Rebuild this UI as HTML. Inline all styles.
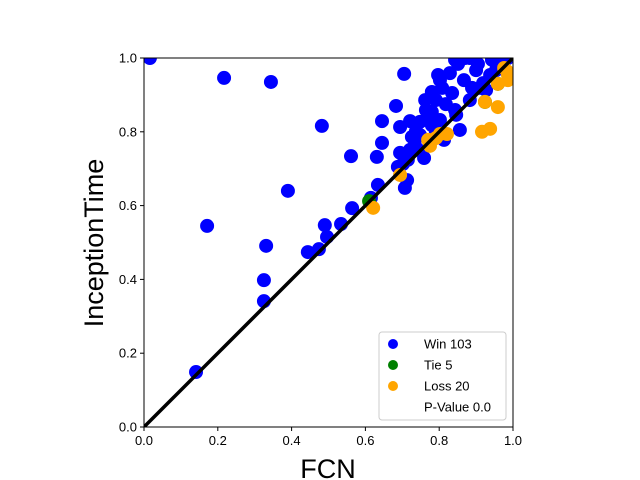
<!DOCTYPE html>
<html><head><meta charset="utf-8"><style>body{margin:0;background:#fff}svg{display:block;font-family:"Liberation Sans","DejaVu Sans",sans-serif}</style></head>
<body>
<svg id="chart" width="640" height="480" viewBox="0 0 640 480"></svg>
<script>
const winX=[0.016,0.217,0.344,0.482,0.561,0.39,0.171,0.331,0.325,0.325,0.141,0.444,0.474,0.496,0.49,0.534,0.564,0.615,0.634,0.631,0.645,0.645,0.683,0.705,0.694,0.694,0.702,0.713,0.707,0.721,0.721,0.726,0.737,0.743,0.748,0.759,0.77,0.78,0.78,0.791,0.802,0.797,0.802,0.818,0.829,0.835,0.813,0.846,0.856,0.867,0.883,0.889,0.9,0.911,0.919,0.938,0.954,0.965,0.978,0.87,0.843,0.843,0.791,0.764,0.748,0.734,0.715,0.688,0.762,0.78,0.808,0.851,0.905,0.927,0.883,0.943,0.986];
const winY=[1.0,0.946,0.935,0.816,0.734,0.64,0.545,0.491,0.398,0.341,0.149,0.474,0.482,0.515,0.547,0.55,0.593,0.621,0.656,0.732,0.77,0.829,0.87,0.957,0.813,0.743,0.713,0.669,0.648,0.751,0.829,0.786,0.802,0.751,0.827,0.729,0.846,0.854,0.818,0.8,0.832,0.954,0.94,0.875,0.959,0.905,0.778,0.846,0.805,0.94,0.886,0.919,0.967,0.919,0.932,0.954,0.967,0.984,0.995,1.0,0.995,0.859,0.886,0.859,0.791,0.764,0.724,0.705,0.886,0.908,0.919,0.984,0.984,0.913,1.0,0.995,1.0];
const tieX=[0.61,0.802,0.924,0.959,0.986];
const tieY=[0.612,0.794,0.881,0.93,0.957];
const lossX=[0.621,0.694,0.775,0.821,0.916,0.938,0.924,0.959,0.986,0.986,0.976,0.77,0.791,0.802,0.986,0.959];
const lossY=[0.594,0.683,0.762,0.794,0.8,0.808,0.881,0.867,0.94,0.957,0.973,0.778,0.783,0.794,0.962,0.93];
const xTicks=[0,0.2,0.4,0.6,0.8,1.0], yTicks=[0,0.2,0.4,0.6,0.8,1.0];
const L=144,R=513,T=58,B=427;
const sx=v=>L+v*(R-L), sy=v=>B-v*(B-T);
const svg=document.getElementById('chart');const NS='http://www.w3.org/2000/svg';
function mk(tag,attrs,parent){const e=document.createElementNS(NS,tag);for(const k in attrs)e.setAttribute(k,attrs[k]);(parent||svg).appendChild(e);return e;}
const clip=mk('clipPath',{id:'pc'});mk('rect',{x:L,y:T,width:R-L,height:B-T},clip);
const g=mk('g',{'clip-path':'url(#pc)'});
function series(xs,ys,col,name){for(let i=0;i<xs.length;i++){const c=mk('circle',{cx:sx(xs[i]),cy:sy(ys[i]),r:7,fill:col},g);

}}
series(winX,winY,'#0000ff','win-point');
series(tieX,tieY,'#008000','tie-point');
series(lossX,lossY,'#ffa500','loss-point');
const dl=mk('line',{x1:sx(0),y1:sy(0),x2:sx(1),y2:sy(1),stroke:'#000','stroke-width':3.5},g);


const fr=mk('rect',{x:L,y:T,width:R-L,height:B-T,fill:'none',stroke:'#000','stroke-width':1});


xTicks.forEach(t=>{mk('line',{x1:sx(t),x2:sx(t),y1:B,y2:B+4,stroke:'#000'});
const tx=mk('text',{x:sx(t),y:B+18,'text-anchor':'middle','font-size':13});tx.textContent=t.toFixed(1);

});
yTicks.forEach(t=>{mk('line',{x1:L-4,x2:L,y1:sy(t),y2:sy(t),stroke:'#000'});
const tx=mk('text',{x:L-7,y:sy(t)+4.5,'text-anchor':'end','font-size':13});tx.textContent=t.toFixed(1);

});
const xl=mk('text',{x:328,y:478,'text-anchor':'middle','font-size':27});xl.textContent='FCN';


const yl=mk('text',{x:103,y:243,'text-anchor':'middle','font-size':27,transform:'rotate(-90 103 243)'});yl.textContent='InceptionTime';


const lg=mk('g',{});


mk('rect',{x:379,y:332,width:127,height:88,rx:3,fill:'#fff','fill-opacity':0.8,stroke:'#ccc'},lg);
const entries=[['#0000ff','Win 103'],['#008000','Tie 5'],['#ffa500','Loss 20'],['none','P-Value 0.0']];
entries.forEach((e,i)=>{const y=344+i*21;
if(e[0]!=='none')mk('circle',{cx:393,cy:y,r:5,fill:e[0]},lg);
const t=mk('text',{x:424,y:y+4.5,'font-size':13},lg);t.textContent=e[1];

});
</script>
</body></html>
